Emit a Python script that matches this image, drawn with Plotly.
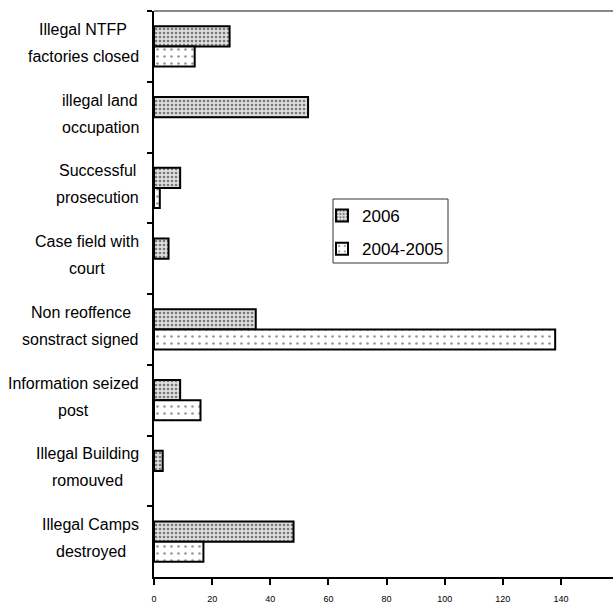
import plotly.graph_objects as go

categories = [
    "Illegal NTFP<br>factories closed",
    "illegal land<br>occupation",
    "Successful<br>prosecution",
    "Case field with<br>court",
    "Non reoffence<br>sonstract signed",
    "Information seized<br>post",
    "Illegal Building<br>romouved",
    "Illegal Camps<br>destroyed",
]
values_2006 = [26, 53, 9, 5, 35, 9, 3, 48]
values_2004_2005 = [14, 0, 2, 0, 138, 16, 0, 17]
series_names = ["2006", "2004-2005"]
x_ticks = [0, 20, 40, 60, 80, 100, 120, 140, 160]

FONT = "Liberation Sans, Arial, sans-serif"
LABEL_SIZE = 16

# Arial / Liberation Sans advance widths (1/1000 em) for estimating label widths
_W = {' ': 278, 'a': 556, 'b': 556, 'c': 500, 'd': 556, 'e': 556, 'f': 278, 'g': 556,
      'h': 556, 'i': 222, 'j': 222, 'k': 500, 'l': 222, 'm': 833, 'n': 556, 'o': 556,
      'p': 556, 'q': 556, 'r': 333, 's': 500, 't': 278, 'u': 556, 'v': 500, 'w': 722,
      'x': 500, 'y': 500, 'z': 500, 'B': 667, 'C': 722, 'F': 611, 'I': 278, 'N': 722,
      'P': 667, 'S': 667, 'T': 611}


def text_width(s, size):
    return sum(_W.get(ch, 556) for ch in s) * size / 1000.0


W, H = 613, 610
PLOT_LEFT, PLOT_TOP, PLOT_BOTTOM = 154, 11, 577
PLOT_W = W - PLOT_LEFT
PLOT_H = PLOT_BOTTOM - PLOT_TOP
LABEL_RIGHT = 139


def px_x(p):
    return (p - PLOT_LEFT) / PLOT_W


def px_y(p):
    return (PLOT_BOTTOM - p) / PLOT_H


fig = go.Figure()
fig.add_trace(go.Bar(
    y=categories, x=values_2006, orientation="h", name=series_names[0],
    legendgroup="a",
    marker=dict(
        color="#d4d4d4",
        line=dict(color="black", width=[2 if v > 0 else 0 for v in values_2006]),
        pattern=dict(shape=".", fgcolor="#111", bgcolor="#dedede", size=4, solidity=0.35, fillmode="overlay"),
    ),
))
fig.add_trace(go.Bar(
    y=categories, x=values_2004_2005, orientation="h", name=series_names[1],
    legendgroup="b",
    marker=dict(
        color="white",
        line=dict(color="black", width=[2 if v > 0 else 0 for v in values_2004_2005]),
        pattern=dict(shape=".", fgcolor="#333", bgcolor="white", size=7, solidity=0.12, fillmode="overlay"),
    ),
))

annotations = []
for c in categories:
    lines = c.split("<br>")
    maxw = max(text_width(l, LABEL_SIZE) for l in lines)
    cx = px_x(LABEL_RIGHT - maxw / 2)
    shifts = [17, -10]
    for line, sh in zip(lines, shifts):
        annotations.append(dict(
            x=cx, xref="paper", y=c, yref="y", yshift=sh, text=line, showarrow=False,
            xanchor="center", yanchor="middle", align="center",
            font=dict(family=FONT, size=LABEL_SIZE, color="black"),
        ))
annotations.append(dict(
    x=x_ticks[-1], xref="x", y=0, yref="paper", yshift=-20, text=str(x_ticks[-1]),
    showarrow=False, xanchor="center", yanchor="middle",
    font=dict(family=FONT, size=9, color="black"),
))

fig.update_layout(
    width=W, height=H,
    margin=dict(l=PLOT_LEFT, r=0, t=PLOT_TOP, b=H - PLOT_BOTTOM),
    paper_bgcolor="white", plot_bgcolor="white",
    barmode="group", bargap=0.43, bargroupgap=0,
    font=dict(family=FONT, color="black"),
    showlegend=True,
    legend=dict(
        x=px_x(322), y=px_y(198), xanchor="left", yanchor="top",
        borderwidth=0, bgcolor="rgba(0,0,0,0)",
        font=dict(family=FONT, size=17, color="black"),
        traceorder="grouped", tracegroupgap=8,
    ),
    annotations=annotations,
    shapes=[
        dict(type="line", xref="paper", yref="paper", x0=0, x1=1, y0=1, y1=1,
             line=dict(color="#888", width=2)),
        dict(type="rect", xref="paper", yref="paper",
             x0=px_x(333), x1=px_x(448), y0=px_y(263), y1=px_y(199),
             line=dict(color="#333", width=1), fillcolor="white", layer="above"),
    ],
)
fig.update_xaxes(
    range=[0, PLOT_W / 2.907],
    tickvals=x_ticks[:-1], ticktext=[str(v) for v in x_ticks[:-1]],
    showline=True, linecolor="black", linewidth=1.5,
    ticks="outside", ticklen=6, tickcolor="black", tickwidth=1.5,
    tickfont=dict(family=FONT, size=9, color="black"),
    ticklabelstandoff=6,
    showgrid=False, zeroline=False,
)
fig.update_yaxes(
    autorange="reversed", categoryorder="array", categoryarray=categories,
    showticklabels=False, showline=True, linecolor="black", linewidth=1.5,
    ticks="outside", ticklen=5, tickcolor="black", tickwidth=1.5, tickson="boundaries",
    showgrid=False, zeroline=False,
)

fig.write_html(
    "out.html",
    config={"displayModeBar": False},
    post_script="document.body.style.margin='0';document.body.style.overflow='hidden';",
)
